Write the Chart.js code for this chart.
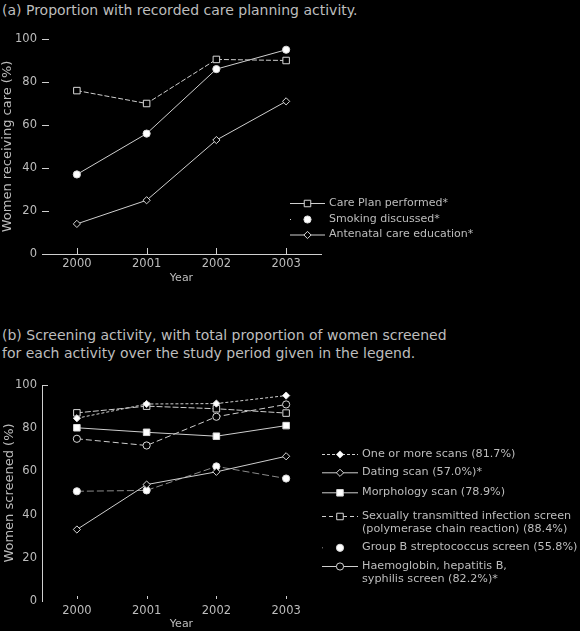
<!DOCTYPE html>
<html>
<head>
<meta charset="utf-8">
<script src="https://cdn.jsdelivr.net/npm/chart.js@4.4.1/dist/chart.umd.min.js"></script>
<style>
  body { margin: 0; background: #000; width: 580px; height: 631px; overflow: hidden; position: relative;
         font-family: "DejaVu Sans", sans-serif; color: #bdbdbd; }
  .title { position: absolute; left: 2px; font-size: 14px; line-height: 18px; white-space: nowrap; }
  .box { position: absolute; left: 0; width: 580px; }
</style>
</head>
<body>
<div class="title" style="top:1px">(a) Proportion with recorded care planning activity.</div>
<div class="title" style="top:326px">(b) Screening activity, with total proportion of women screened<br>for each activity over the study period given in the legend.</div>
<div class="box" style="top:0;height:290px"><canvas id="chartA"></canvas></div>
<div class="box" style="top:360px;height:271px"><canvas id="chartB"></canvas></div>

<script>
// années (catégories)
const years = ['2000', '2001', '2002', '2003'];

// (a) care planning, % of women
const carePlan = [76, 70, 90.5, 90];
const smoking = [37, 56, 86, 95];
const antenatal = [14, 25, 53, 71];
const namesA = [['Care Plan performed*'], ['Smoking discussed*'], ['Antenatal care education*']];

// (b) screening, % of women
const oneOrMore = [84.6, 91.2, 91.4, 95.1];
const dating = [33.1, 53.9, 59.8, 67];
const morphology = [80.2, 78.1, 76.3, 81.2];
const sti = [87.1, 90.2, 89, 87];
const groupB = [50.8, 51.2, 62.3, 56.7];
const haemo = [75.1, 72, 85.3, 91];
const namesB = [
  ['One or more scans (81.7%)'],
  ['Dating scan (57.0%)*'],
  ['Morphology scan (78.9%)'],
  ['Sexually transmitted infection screen', '(polymerase chain reaction) (88.4%)'],
  ['Group B streptococcus screen (55.8%)'],
  ['Haemoglobin, hepatitis B,', 'syphilis screen (82.2%)*']
];

const LINE = '#cfcfcf';
const TEXT = '#bdbdbd';
const FONT = 'DejaVu Sans';

// legende dessinée à la main à côté du graphique
const sideLegend = {
  id: 'sideLegend',
  afterDraw(chart, args, opts) {
    const ctx = chart.ctx;
    ctx.save();
    ctx.font = opts.size + 'px "' + FONT + '"';
    ctx.textBaseline = 'middle';
    chart.data.datasets.forEach((ds, i) => {
      const y = opts.rows[i];
      ctx.strokeStyle = ds.borderColor;
      ctx.lineWidth = 1;
      ctx.setLineDash(ds.legendDash || []);
      ctx.beginPath();
      ctx.moveTo(opts.x0, y + 0.5);
      ctx.lineTo(opts.x1, y + 0.5);
      ctx.stroke();
      ctx.setLineDash([]);
      ctx.fillStyle = ds.pointBackgroundColor;
      ctx.strokeStyle = ds.pointBorderColor;
      Chart.helpers.drawPoint(ctx, { pointStyle: ds.pointStyle, radius: ds.pointRadius, borderWidth: 1, rotation: 0 },
        (opts.x0 + opts.x1) / 2, y + 0.5);
      ctx.fillStyle = TEXT;
      ds.legendLines.forEach((t, k) => ctx.fillText(t, opts.textX, y + k * opts.gap));
    });
    ctx.restore();
  }
};

// petits traits vers l'intérieur
const innerTicks = {
  id: 'innerTicks',
  beforeDatasetsDraw(chart, args, opts) {
    const { ctx, chartArea: a, scales: { x, y } } = chart;
    ctx.save();
    ctx.strokeStyle = LINE;
    ctx.lineWidth = 1;
    ctx.beginPath();
    x.ticks.forEach((t, i) => {
      const px = Math.round(x.getPixelForTick(i)) + 0.5;
      ctx.moveTo(px, a.bottom - opts.xFrom);
      ctx.lineTo(px, a.bottom - opts.xFrom - opts.xLen);
    });
    opts.yValues.forEach(v => {
      const py = Math.round(y.getPixelForValue(v)) + 0.5;
      ctx.moveTo(a.left, py);
      ctx.lineTo(a.left + opts.yLen, py);
    });
    ctx.stroke();
    ctx.restore();
  }
};

function series(data, names, style, fill, dash, legendDash, color) {
  return {
    label: names.join(' '),
    legendLines: names,
    data,
    borderColor: color || LINE,
    borderWidth: 1,
    borderDash: dash,
    legendDash,
    pointStyle: style,
    pointRadius: style === 'rect' ? 4.6 : 3.6,
    pointBackgroundColor: fill ? '#ffffff' : '#000000',
    pointBorderColor: '#d8d8d8',
    pointBorderWidth: 1,
    tension: 0
  };
}

function axes(yTitle, yPad, yBorder, xBorder, bottom, yearPad) {
  return {
    x: {
      type: 'category', offset: true,
      afterFit: s => { s.height = s.chart.height - bottom; },
      grid: { display: false, drawTicks: false, tickLength: 0 },
      border: { display: xBorder, color: LINE, width: 1 },
      ticks: { color: TEXT, padding: 3, font: { family: FONT, size: 11.5 } },
      title: { display: true, text: 'Year', color: TEXT, font: { family: FONT, size: 11 }, padding: { top: 0, bottom: yearPad } }
    },
    y: {
      min: 0, max: 100,
      afterFit: s => { s.width = 42; },
      grid: { display: false, drawTicks: false, tickLength: 0 },
      border: { display: yBorder, color: LINE, width: 1 },
      ticks: { stepSize: 20, color: TEXT, padding: 5, font: { family: FONT, size: 11.5 } },
      title: { display: true, text: yTitle, color: TEXT, font: { family: FONT, size: 13 }, padding: { top: yPad, bottom: 0 } }
    }
  };
}

Chart.defaults.animation = false;

new Chart(document.getElementById('chartA'), {
  type: 'line',
  data: {
    labels: years,
    datasets: [
      series(carePlan, namesA[0], 'rect', false, [5, 2], []),
      series(smoking, namesA[1], 'circle', true, [], [1, 60]),
      series(antenatal, namesA[2], 'rectRot', false, [], [])
    ]
  },
  options: {
    responsive: true, maintainAspectRatio: false,
    layout: { padding: { top: 39, right: 259, bottom: 0, left: 0 } },
    scales: axes('Women receiving care (%)', 0, false, true, 254, 5),
    plugins: {
      legend: { display: false }, tooltip: { enabled: false },
      sideLegend: { x0: 290, x1: 325, textX: 329, rows: [203, 219, 234.5], gap: 14, size: 11 },
      innerTicks: { xFrom: 0, xLen: 6, yValues: [0, 20, 40, 60, 80, 100], yLen: 7 }
    }
  },
  plugins: [sideLegend, innerTicks]
});

new Chart(document.getElementById('chartB'), {
  type: 'line',
  data: {
    labels: years,
    datasets: [
      series(oneOrMore, namesB[0], 'rectRot', true, [3, 2], [3, 2]),
      series(dating, namesB[1], 'rectRot', false, [], []),
      series(morphology, namesB[2], 'rect', true, [], []),
      series(sti, namesB[3], 'rect', false, [6, 2], [4, 3]),
      series(groupB, namesB[4], 'circle', true, [7, 3], [1, 60], '#8c8c8c'),
      series(haemo, namesB[5], 'circle', false, [6, 3], [])
    ]
  },
  options: {
    responsive: true, maintainAspectRatio: false,
    layout: { padding: { top: 25, right: 259, bottom: 0, left: 0 } },
    scales: axes('Women screened (%)', 2, true, false, 241, 0.5),
    plugins: {
      legend: { display: false }, tooltip: { enabled: false },
      sideLegend: { x0: 322, x1: 358, textX: 362, rows: [94, 112.3, 132.3, 156, 187.3, 206], gap: 13.5, size: 11.2 },
      innerTicks: { xFrom: 2, xLen: 3, yValues: [100], yLen: 6 }
    }
  },
  plugins: [sideLegend, innerTicks]
});
</script>
</body>
</html>
